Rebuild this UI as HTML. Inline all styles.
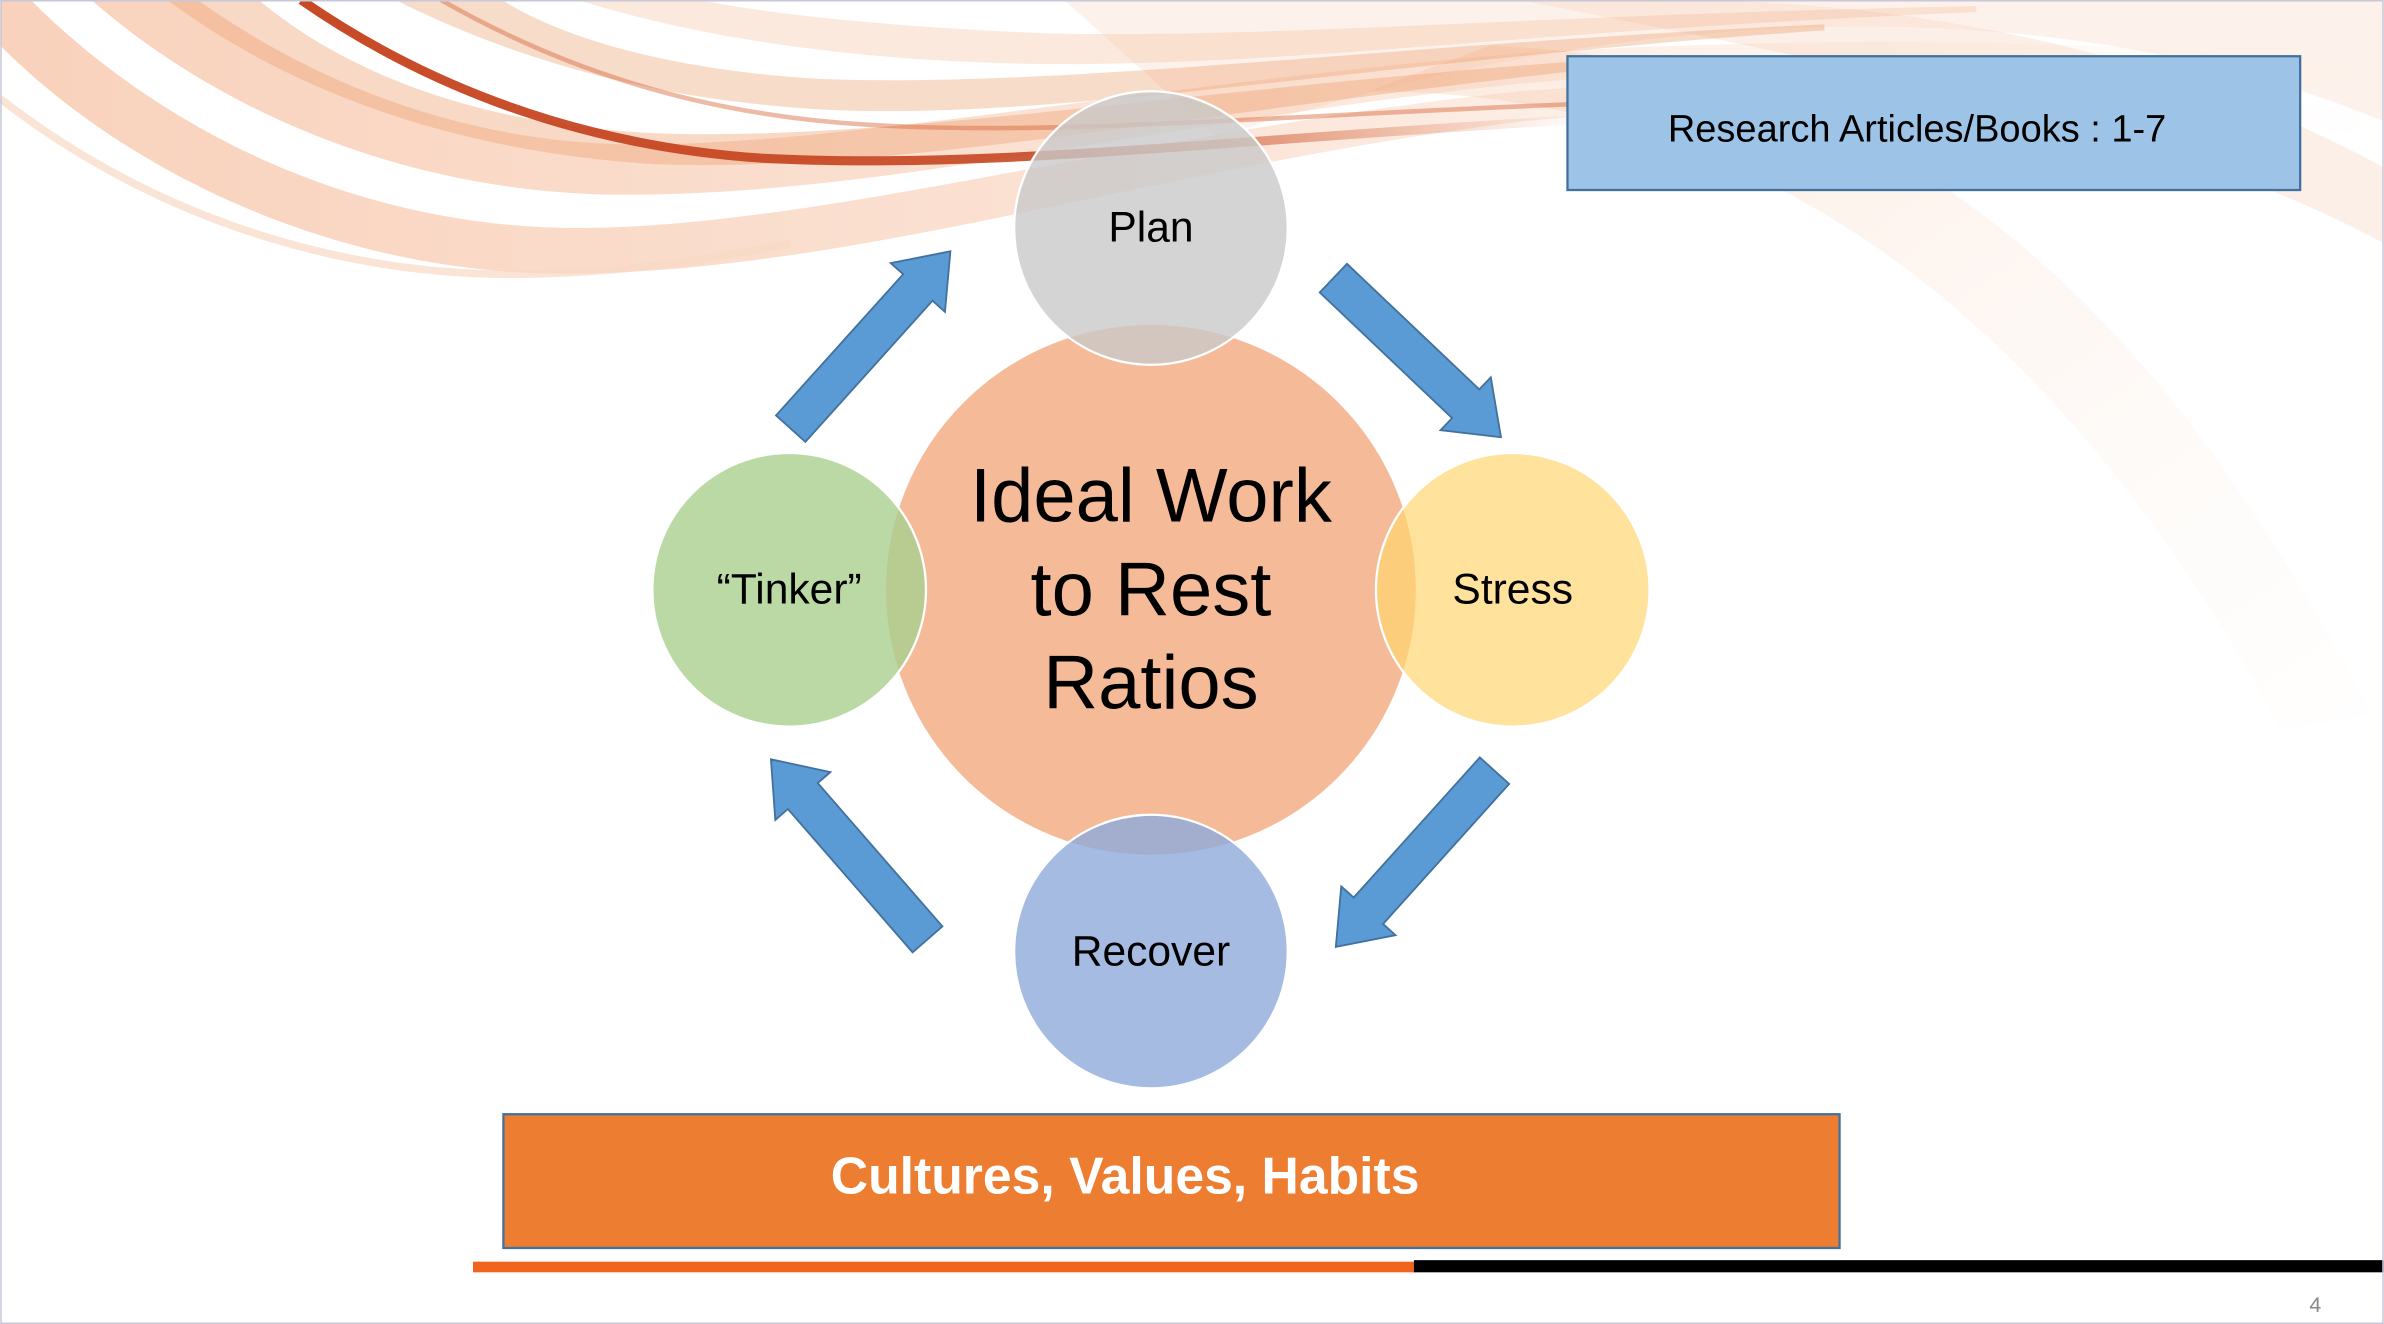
<!DOCTYPE html>
<html><head><meta charset="utf-8"><style>
html,body{margin:0;padding:0;background:#fff;}
svg{display:block;}
text{font-family:"Liberation Sans","DejaVu Sans",sans-serif;}
</style></head><body>
<svg width="2384" height="1324" viewBox="0 0 1568 871" xmlns="http://www.w3.org/2000/svg">
<defs>
<linearGradient id="fadeR" x1="0" y1="0" x2="1" y2="0">
<stop offset="0" stop-color="#f2a477" stop-opacity="0.5"/>
<stop offset="0.5" stop-color="#f4b08a" stop-opacity="0.35"/>
<stop offset="1" stop-color="#f8cfb5" stop-opacity="0"/>
</linearGradient>
<linearGradient id="lineFade" x1="0" y1="0" x2="1" y2="0">
<stop offset="0" stop-color="#c4401b" stop-opacity="0.95"/>
<stop offset="0.6" stop-color="#c4401b" stop-opacity="0.85"/>
<stop offset="1" stop-color="#e08050" stop-opacity="0"/>
</linearGradient>
<linearGradient id="fadeD" x1="0" y1="0" x2="1" y2="1">
<stop offset="0" stop-color="#f6c4a4" stop-opacity="0.35"/>
<stop offset="1" stop-color="#fbe6d8" stop-opacity="0.03"/>
</linearGradient>
</defs>
<rect x="0" y="0" width="1568" height="871" fill="#fff"/>
<!-- faint right wave -->
<path d="M700,0 L1568,0 L1568,80 C1450,30 1300,10 1150,20 C1000,30 900,60 800,90 Z" fill="#fbe7da" opacity="0.55"/>
<path d="M900,60 C1150,60 1350,200 1500,480 L1560,470 C1420,200 1250,40 980,30 Z" fill="url(#fadeD)"/>
<path d="M1000,0 C1200,40 1420,80 1568,160 L1568,110 C1420,30 1250,0 1100,0 Z" fill="#f8d6c2" opacity="0.4"/>
<!-- left bands, tapering to right edge -->
<path d="M0,30 C90,120 230,180 370,180 C560,180 760,110 1000,80 C1200,60 1400,70 1568,90 L1568,75 C1400,50 1200,45 1000,60 C760,85 540,150 380,150 C240,150 110,90 20,0 L0,0 Z" fill="url(#fadeR)"/>
<path d="M0,0 L60,0 C140,70 260,125 400,128 C580,130 760,80 1000,55 C1250,35 1450,45 1568,55 L1568,45 C1450,30 1250,20 1000,35 C760,55 560,95 420,95 C300,95 200,50 130,0 Z" fill="url(#fadeR)"/>
<path d="M110,0 C190,60 300,100 430,108 C600,114 800,70 1100,40 L1100,36 C800,55 600,92 440,88 C320,84 230,50 170,0 Z" fill="#eea070" opacity="0.4"/>
<path d="M260,0 C330,35 420,65 540,72 C700,80 900,40 1200,20 L1200,16 C900,30 700,58 540,52 C440,46 370,25 330,0 Z" fill="#eb9a68" opacity="0.35"/>
<path d="M380,0 C460,25 560,40 680,42 C850,44 1000,20 1300,8 L1300,4 C1000,10 850,25 690,22 C590,18 510,10 460,0 Z" fill="#f3b590" opacity="0.3"/>
<path d="M0,65 C110,150 240,185 360,180 C420,178 470,170 520,160" fill="none" stroke="#f8d8c4" stroke-width="5" opacity="0.7"/>
<!-- dark line -->
<path d="M198,0 C270,50 370,95 500,104 C650,112 800,92 1050,78" fill="none" stroke="url(#lineFade)" stroke-width="6"/>
<path d="M290,0 C360,40 450,75 570,82 C700,90 850,75 1050,68" fill="none" stroke="#d8663a" stroke-width="3" opacity="0.45"/>

<!-- top right box -->
<rect x="1031" y="37" width="482" height="88" fill="#9dc3e6" stroke="#41719c" stroke-width="1.5"/>
<text x="1261" y="93" font-size="25" text-anchor="middle" fill="#000">Research Articles/Books : 1-7</text>

<!-- center circle -->
<circle cx="757" cy="388" r="175" fill="#f5bb98" stroke="#fff" stroke-width="1.5"/>
<circle cx="757" cy="150" r="90" fill="#c9c9c9" fill-opacity="0.8" stroke="#fff" stroke-width="1.5"/>
<circle cx="995" cy="388" r="90" fill="#ffd670" fill-opacity="0.7" stroke="#fff" stroke-width="1.5"/>
<circle cx="757" cy="626" r="90" fill="#8eaadb" fill-opacity="0.8" stroke="#fff" stroke-width="1.5"/>
<circle cx="519" cy="388" r="90" fill="#a9d08e" fill-opacity="0.8" stroke="#fff" stroke-width="1.5"/>

<text x="757" y="343" font-size="50" text-anchor="middle" fill="#000">Ideal Work</text>
<text x="757" y="405" font-size="50" text-anchor="middle" fill="#000">to Rest</text>
<text x="757" y="466" font-size="50" text-anchor="middle" fill="#000">Ratios</text>
<text x="757" y="159" font-size="28" text-anchor="middle" fill="#000">Plan</text>
<text x="995" y="397" font-size="28" text-anchor="middle" fill="#000">Stress</text>
<text x="757" y="635" font-size="28" text-anchor="middle" fill="#000">Recover</text>
<text x="519" y="397" font-size="28" text-anchor="middle" fill="#000">“Tinker”</text>

<!-- arrows -->
<g fill="#5b9bd5" stroke="#41719c" stroke-width="1.2">
<polygon transform="translate(520,282) rotate(-48)" points="0,-13 125,-13 125,-24 157,0 125,24 125,13 0,13"/>
<polygon transform="translate(877,183) rotate(43.5)" points="0,-13 120,-13 120,-24 152,0 120,24 120,13 0,13"/>
<polygon transform="translate(983,507) rotate(132)" points="0,-13 124,-13 124,-24 156,0 124,24 124,13 0,13"/>
<polygon transform="translate(610,618) rotate(-131)" points="0,-13 125,-13 125,-24 157,0 125,24 125,13 0,13"/>
</g>

<!-- bottom box -->
<rect x="331" y="733" width="879" height="88" fill="#ed7d31" stroke="#41719c" stroke-width="1.5"/>
<text x="740" y="785" font-size="34" font-weight="bold" text-anchor="middle" fill="#fff">Cultures, Values, Habits</text>

<rect x="311" y="830" width="620" height="7" fill="#f0641e"/>
<rect x="930" y="829" width="638" height="8" fill="#000"/>
<text x="1523" y="863" font-size="14" text-anchor="middle" fill="#888">4</text>
<rect x="0.5" y="0.5" width="1567" height="870" fill="none" stroke="#c8c8d8" stroke-width="1"/>
</svg>
</body></html>
